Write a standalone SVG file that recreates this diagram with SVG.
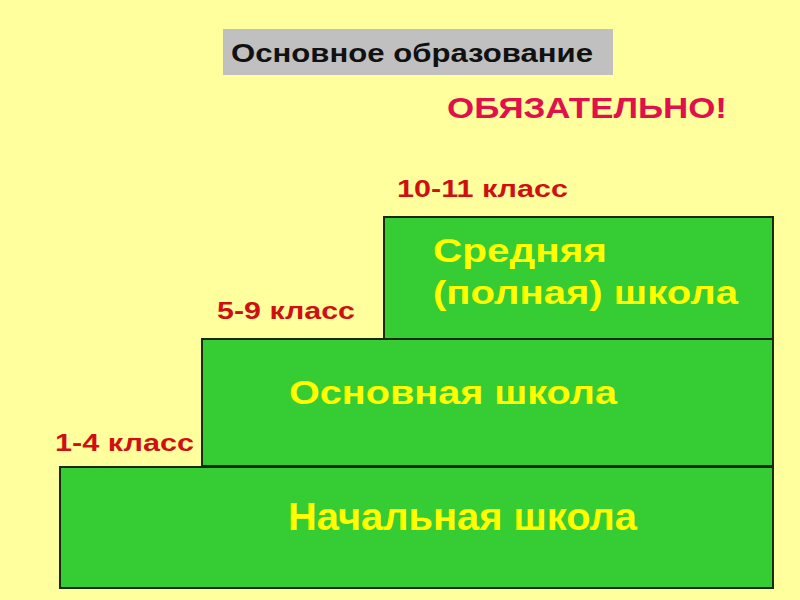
<svg xmlns="http://www.w3.org/2000/svg" width="800" height="600" viewBox="0 0 800 600">
<style>
.step{fill:#36cc33;stroke:#1a2a10;stroke-width:2}
.lbl{font-family:"Liberation Sans",Arial,sans-serif;font-weight:bold;fill:#ffff00;font-size:33px}
.cls{font-family:"Liberation Sans",Arial,sans-serif;font-weight:bold;fill:#d01010;font-size:24px}
</style>
<rect x="0" y="0" width="800" height="600" fill="#ffff9e"/>
<g id="title">
<rect x="223" y="29" width="390" height="46" fill="#c0c0c0"/>
<text x="231" y="62" font-family="'Liberation Sans',Arial,sans-serif" font-weight="bold" font-size="26" fill="#111" textLength="362" lengthAdjust="spacingAndGlyphs">Основное образование</text>
</g>
<g id="mandatory">
<text x="447" y="118" font-family="'Liberation Sans',Arial,sans-serif" font-weight="bold" font-size="30" fill="#e0104a" textLength="280" lengthAdjust="spacingAndGlyphs">ОБЯЗАТЕЛЬНО!</text>
</g>
<g id="primary">
<rect class="step" x="60" y="467" width="713" height="121"/>
<text class="lbl" x="288" y="530" style="font-size:38px" textLength="349" lengthAdjust="spacingAndGlyphs">Начальная школа</text>
</g>
<g id="basic">
<rect class="step" x="202" y="339" width="571" height="127"/>
<text class="lbl" x="289" y="404" textLength="328" lengthAdjust="spacingAndGlyphs">Основная школа</text>
</g>
<g id="secondary">
<rect class="step" x="384" y="217" width="389" height="122"/>
<text class="lbl" x="433" y="262" textLength="174" lengthAdjust="spacingAndGlyphs">Средняя</text>
<text class="lbl" x="433" y="304" textLength="305" lengthAdjust="spacingAndGlyphs">(полная) школа</text>
</g>
<g id="grades">
<text class="cls" x="397" y="197" textLength="171" lengthAdjust="spacingAndGlyphs">10-11 класс</text>
<text class="cls" x="217" y="319" textLength="138" lengthAdjust="spacingAndGlyphs">5-9 класс</text>
<text class="cls" x="55" y="451" textLength="139" lengthAdjust="spacingAndGlyphs">1-4 класс</text>
</g>
<g id="connectors"></g>
</svg>
